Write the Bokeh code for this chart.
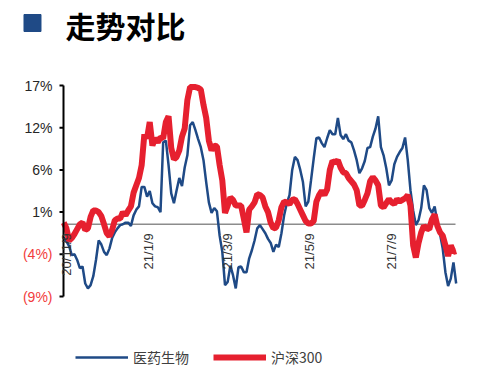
import math
import pandas as pd
from bokeh.plotting import figure
from bokeh.models import Range1d, Legend, LegendItem
from bokeh.core.properties import value
from bokeh.embed import file_html
from bokeh.resources import INLINE

# ---- data ----
start_date = "2020-11-07"
step = "2D"

med_bio = [-1.6, -2.1, -2.7, -3.8, -3.7, -4.4, -5.4, -5.2, -7.3, -7.9,
           -7.5, -6.4, -4.4, -2.0, -2.5, -3.4, -3.8, -3.0, -1.7, -1.0,
           -0.5, -0.1, 0.0, 0.2, 0.2, -0.2, 1.1, 1.8, 2.2, 4.6,
           4.6, 3.4, 4.1, 2.6, 2.2, 2.1, 1.5, 10.1, 10.3, 7.3,
           3.8, 2.6, 4.2, 5.7, 4.7, 7.0, 8.5, 12.2, 12.6, 11.6,
           10.5, 9.5, 7.9, 5.2, 2.7, 1.4, 2.0, 1.6, -1.4, -3.4,
           -7.5, -7.1, -5.1, -6.3, -7.9, -5.3, -5.2, -5.9, -5.9, -4.2,
           -3.2, -2.0, -0.5, -0.1, -0.6, -1.1, -1.8, -2.3, -3.4, -2.5,
           -2.8, -1.1, 1.1, 2.6, 3.6, 6.7, 8.3, 7.9, 6.7, 5.2,
           2.2, 2.8, 5.4, 8.1, 10.6, 10.7, 10.0, 9.5, 10.6, 11.6,
           11.1, 11.1, 13.1, 11.0, 10.5, 11.1, 10.3, 10.1, 9.1, 7.9,
           6.3, 6.9, 7.8, 9.4, 9.5, 10.8, 11.8, 13.3, 9.5, 8.5,
           6.9, 4.8, 5.4, 7.4, 8.3, 8.9, 9.4, 10.7, 7.9, 4.2,
           1.7, -0.1, 0.5, 2.0, 4.8, 4.2, 2.0, 1.4, 2.2, 0.2,
           -1.2, -3.0, -5.9, -7.6, -6.7, -4.7, -7.3]

hs300 = [0.2, -0.5, -2.0, -1.7, -1.2, -0.6, 0.0, 0.2, -0.7, -0.5,
         0.9, 1.7, 1.7, 1.5, 1.0, 0.0, -1.1, -1.5, -0.7, 0.5,
         0.7, 0.7, 1.5, 1.1, 1.7, 2.2, 3.9, 4.8, 5.7, 7.3,
         11.1, 10.6, 12.6, 9.7, 10.6, 10.1, 10.7, 10.6, 12.6, 13.3,
         9.4, 8.0, 8.3, 9.1, 10.8, 11.8, 15.3, 16.9, 16.9, 16.9,
         16.8, 16.6, 14.7, 13.1, 10.3, 9.1, 9.7, 9.6, 7.3, 5.4,
         1.4, 2.3, 3.3, 3.0, 2.3, 2.3, 2.3, 0.7, -1.0, 1.8,
         2.2, 2.7, 3.7, 3.6, 3.3, 2.2, 1.5, 0.2, -0.5, -0.4,
         0.5, 2.1, 2.8, 2.7, 2.5, 3.0, 3.1, 2.5, 1.8, 1.1,
         0.4, 0.1, 0.1, 0.4, 2.8, 3.6, 4.1, 3.6, 4.3, 6.7,
         7.8, 7.6, 7.9, 7.0, 6.4, 6.3, 5.7, 5.3, 4.9, 4.2,
         2.3, 2.3, 3.0, 3.8, 5.3, 5.8, 5.4, 4.8, 2.3, 2.1,
         2.6, 3.1, 2.7, 2.5, 3.1, 2.8, 3.0, 3.2, 3.6, 2.3,
         -2.6, -4.1, -2.3, -1.0, -0.2, -0.5, -0.6, 0.6, 1.2, -0.2,
         -1.0, -1.4, -2.6, -3.9, -2.6, -3.4, -3.3]

series_names = ["医药生物", "沪深300"]
tick_dates = ["2020-11-09", "2021-01-09", "2021-03-09", "2021-05-09", "2021-07-09"]
tick_labels = ["20/11/9", "21/1/9", "21/3/9", "21/5/9", "21/7/9"]
y_ticks = [-8.9, -3.7, 1.5, 6.7, 11.9, 17.1]
y_tick_labels = ["(9%)", "(4%)", "1%", "6%", "12%", "17%"]
title_text = "走势对比"

dates = pd.date_range(start_date, periods=len(med_bio), freq=step)

BLUE = "#1f4a86"
RED = "#e6202f"
W, H = 484, 376
# plot area in page pixels
PL, PR, PT, PB = 63, 457, 85, 296

x_lo = dates[0] - pd.Timedelta(hours=4)
x_hi = dates[0] + pd.Timedelta(days=293)
xs = (x_hi - x_lo) / (PR - PL)               # time per pixel
ys = (y_ticks[-1] - y_ticks[0]) / (PB - PT)  # value per pixel


def px_x(px):
    return (x_lo + (px - PL) * xs).floor("s").to_pydatetime()


def px_y(py):
    return y_ticks[-1] - (py - PT) * ys


p = figure(width=W, height=H, output_backend="svg", toolbar_location=None,
           x_axis_type="datetime",
           x_range=Range1d(px_x(0), px_x(W)),
           y_range=Range1d(px_y(H), px_y(0)),
           min_border=0)
p.outline_line_color = None
p.axis.visible = False
p.grid.visible = False
p.background_fill_color = "white"

# zero line
p.segment(x0=[px_x(PL)], y0=[0], x1=[px_x(455)], y1=[0], line_color="#8c8c8c", line_width=1.5)

# series
r_blue = p.line(dates, med_bio, line_color=BLUE, line_width=2.5)
r_red = p.line(dates, hs300, line_color=RED, line_width=6)

# y axis line, ticks and labels
xa = px_x(PL)
xt = px_x(PL - 4)
n = len(y_ticks)
p.segment(x0=[xa], y0=[y_ticks[0]], x1=[xa], y1=[y_ticks[-1]], line_color="black", line_width=2)
p.segment(x0=[xt] * n, y0=y_ticks, x1=[xa] * n, y1=y_ticks, line_color="black", line_width=2)
colors = ["#f23c3c" if s.startswith("(") else "#262626" for s in y_tick_labels]
p.text(x=[xa] * n, y=y_ticks, text=y_tick_labels, text_color=colors,
       x_offset=-11, text_align="right", text_baseline="middle",
       text_font=value("Liberation Sans"), text_font_size="14px")

# x tick labels (rotated, just under the zero line)
p.text(x=pd.to_datetime(tick_dates), y=[0] * len(tick_dates), text=tick_labels,
       angle=math.pi / 2, text_align="right", text_baseline="middle", y_offset=9,
       text_font=value("Liberation Sans"), text_font_size="13px", text_color="#333333")

# title
p.scatter(x=[px_x(32)], y=[px_y(22.5)], marker="square", size=17, color=BLUE)
p.text(x=[px_x(65)], y=[px_y(24)], text=[title_text], text_baseline="middle",
       text_align="left", text_font=value("Noto Sans CJK SC"), text_font_style="bold",
       text_font_size="30px", text_color="black")

legend = Legend(items=[LegendItem(label=series_names[0], renderers=[r_blue]),
                       LegendItem(label=series_names[1], renderers=[r_red])],
                location=(75, 9), orientation="horizontal",
                glyph_width=53, glyph_height=16, label_standoff=5, spacing=24,
                padding=0, margin=0,
                label_text_font="Noto Sans CJK SC", label_text_font_size="14px",
                label_text_color="#404040",
                background_fill_alpha=0, border_line_alpha=0)
p.add_layout(legend)

open("out.html", "w").write(file_html(p, INLINE, title="走势对比"))
